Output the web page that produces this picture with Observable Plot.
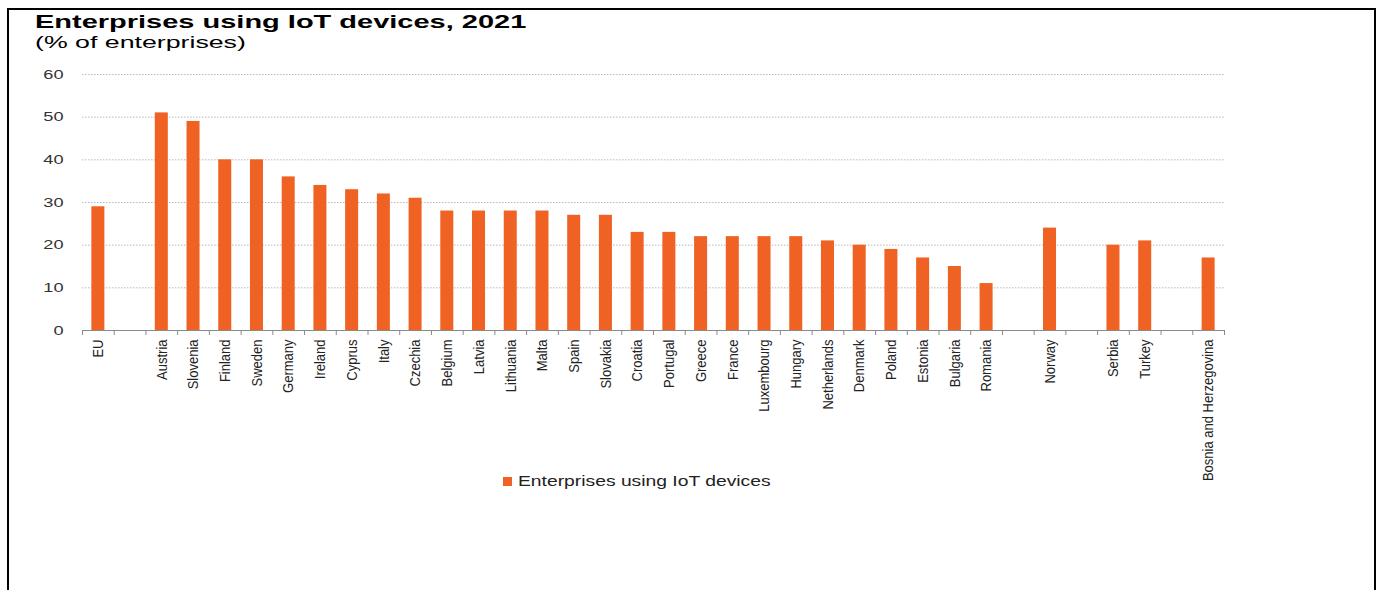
<!DOCTYPE html>
<html>
<head>
<meta charset="utf-8">
<script src="https://cdn.jsdelivr.net/npm/d3@7"></script>
<script src="https://cdn.jsdelivr.net/npm/@observablehq/plot@0.6"></script>
<style>
  html, body { margin: 0; padding: 0; background: #fff; }
  body { width: 1395px; height: 590px; position: relative; overflow: hidden; font-family: "Liberation Sans", Arial, sans-serif; }
  #frame { position: absolute; left: 7px; top: 8px; width: 1369px; height: 600px; border: 2px solid #000; border-bottom: none; box-sizing: border-box; }
  .title { position: absolute; left: 35px; top: 13px; font-size: 18px; line-height: 18px; font-weight: bold; color: #000; white-space: nowrap; transform: scaleX(1.61); transform-origin: left top; }
  .subtitle { position: absolute; left: 35px; top: 35px; font-size: 16px; line-height: 16px; color: #000; white-space: nowrap; transform: scaleX(1.67); transform-origin: left top; }
  #chart { position: absolute; left: 0; top: 60px; }
  .legend { position: absolute; left: 503px; top: 474px; font-size: 14.5px; line-height: 14.5px; color: #222; white-space: nowrap; }
  .legend .sw { display: inline-block; width: 9px; height: 9px; background: #ef6223; margin-right: 6px; vertical-align: 0px; }
  .legend .lt { display: inline-block; transform: scaleX(1.33); transform-origin: left center; }
</style>
</head>
<body>
<div id="frame"></div>
<div class="title">Enterprises using IoT devices, 2021</div>
<div class="subtitle">(% of enterprises)</div>
<div id="chart"></div>
<div class="legend"><span class="sw"></span><span class="lt">Enterprises using IoT devices</span></div>
<script>
const countries = ["EU","Austria","Slovenia","Finland","Sweden","Germany","Ireland","Cyprus","Italy","Czechia","Belgium","Latvia","Lithuania","Malta","Spain","Slovakia","Croatia","Portugal","Greece","France","Luxembourg","Hungary","Netherlands","Denmark","Poland","Estonia","Bulgaria","Romania","Norway","Serbia","Turkey","Bosnia and Herzegovina"];
const values = [29,51,49,40,40,36,34,33,32,31,28,28,28,28,27,27,23,23,22,22,22,22,21,20,19,17,15,11,24,20,21,17];
const xDomain = ["EU","_gap1","Austria","Slovenia","Finland","Sweden","Germany","Ireland","Cyprus","Italy","Czechia","Belgium","Latvia","Lithuania","Malta","Spain","Slovakia","Croatia","Portugal","Greece","France","Luxembourg","Hungary","Netherlands","Denmark","Poland","Estonia","Bulgaria","Romania","_gap2","Norway","_gap3","Serbia","Turkey","_gap4","Bosnia and Herzegovina"];
const yTicks = [0,10,20,30,40,50,60];
const seriesName = "Enterprises using IoT devices";

const data = countries.map((c, i) => ({country: c, value: values[i]}));

const W = 1395, mL = 82, mR = 171;
const bw = (W - mL - mR) / xDomain.length;
const lastCat = xDomain[xDomain.length - 1];

const chart = Plot.plot({
  width: W,
  height: 430,
  marginLeft: mL,
  marginRight: mR,
  marginTop: 14,
  marginBottom: 160,
  style: {fontFamily: "'Liberation Sans', Arial, sans-serif", color: "#222", background: "transparent"},
  x: {domain: xDomain, paddingInner: 0.59, paddingOuter: 0.295, align: 0.5, round: false, label: null},
  y: {domain: [0, 60], label: null},
  marks: [
    Plot.gridY(yTicks, {stroke: "#b8b8b8", strokeOpacity: 1, strokeDasharray: "1.5,1.5"}),
    Plot.barY(data, {x: "country", y: "value", fill: "#ef6223"}),
    Plot.ruleY([0], {stroke: "#8a8a8a", strokeWidth: 1.2}),
    Plot.axisX({tickSize: 5, text: null, dx: -bw / 2, stroke: "#8a8a8a", label: null}),
    Plot.axisX([lastCat], {tickSize: 5, text: null, dx: bw / 2, stroke: "#8a8a8a", label: null}),
    Plot.axisX({tickSize: 0, tickPadding: 9, tickRotate: -90, fontSize: 13, fill: "#222", label: null,
      tickFormat: d => d.startsWith("_") ? "" : d}),
    Plot.axisY(yTicks, {tickSize: 0, tickPadding: 19, fontSize: 13, fill: "#333", label: null})
  ]
});
// stretch tick labels horizontally like the reference's rendering
d3.select(chart).selectAll('g[aria-label="y-axis tick label"] text').each(function() {
  const t = this.getAttribute("transform") || "";
  this.setAttribute("transform", t + " scale(1.4,1)");
});
d3.select(chart).selectAll('g[aria-label="x-axis tick label"] text').each(function() {
  const t = this.getAttribute("transform") || "";
  const m = t.match(/translate\([^)]*\)/);
  if (m) this.setAttribute("transform", m[0] + " scale(1.15,1) " + t.replace(m[0], ""));
});
document.getElementById("chart").appendChild(chart);
</script>
</body>
</html>
